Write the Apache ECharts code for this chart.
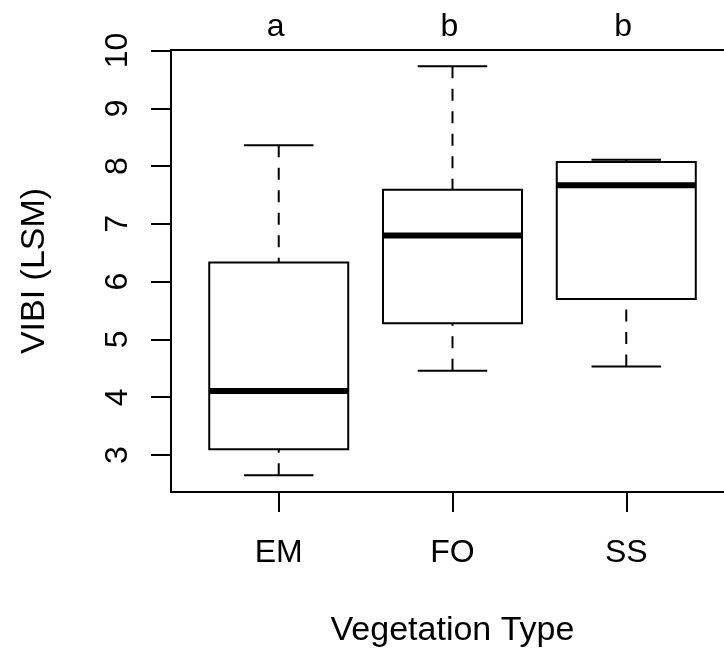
<!DOCTYPE html>
<html>
<head>
<meta charset="utf-8">
<script src="https://cdn.jsdelivr.net/npm/echarts@6/dist/echarts.min.js"></script>
<style>
  html, body { margin: 0; padding: 0; background: #fff; overflow: hidden; }
  /* the plot frame runs past the right edge of the page, so the canvas is wider than the window */
  #chart { width: 760px; height: 658px; }
</style>
</head>
<body>
<div id="chart"></div>
<script>
// Vegetation types and the five-number summary of VIBI (LSM) for each
const categories = ['EM', 'FO', 'SS'];
const lowerWhisker = [2.65, 4.46, 4.53];
const lowerQuartile = [3.10, 5.28, 5.70];
const medians = [4.11, 6.80, 7.67];
const upperQuartile = [6.33, 7.59, 8.07];
const upperWhisker = [8.36, 9.73, 8.11];
// Group letters from the post-hoc comparison
const groupLetters = ['a', 'b', 'b'];
const yTicks = [3, 4, 5, 6, 7, 8, 9, 10];

const FONT = '"Liberation Sans", Arial, Helvetica, sans-serif';
const TICK_SIZE = 32;
const TITLE_SIZE = 34;
const yMin = 2.36, yMax = 10.01;

const boxData = categories.map((c, i) => [
  i + 1, lowerWhisker[i], lowerQuartile[i], medians[i], upperQuartile[i], upperWhisker[i]
]);

function renderBox(params, api) {
  const x = api.value(0);
  const pLow = api.coord([x, api.value(1)]);
  const pQ1 = api.coord([x, api.value(2)]);
  const pMed = api.coord([x, api.value(3)]);
  const pQ3 = api.coord([x, api.value(4)]);
  const pHigh = api.coord([x, api.value(5)]);
  const halfBox = api.size([0.8, 0])[0] / 2;
  const halfCap = halfBox / 2;
  const cx = pMed[0];
  const line = (x1, y1, x2, y2, extra) => ({
    type: 'line',
    shape: { x1, y1, x2, y2 },
    style: Object.assign({ stroke: '#000', lineWidth: 2, lineCap: 'butt' }, extra || {})
  });
  const dash = { lineDash: [12, 10.5] };
  return {
    type: 'group',
    children: [
      // whiskers run from the cap toward the box
      line(cx, pHigh[1], cx, pQ3[1], dash),
      line(cx, pLow[1], cx, pQ1[1], dash),
      line(cx - halfCap, pHigh[1], cx + halfCap, pHigh[1]),
      line(cx - halfCap, pLow[1], cx + halfCap, pLow[1]),
      {
        type: 'rect',
        shape: { x: cx - halfBox, y: pQ3[1], width: halfBox * 2, height: pQ1[1] - pQ3[1] },
        style: { fill: '#fff', stroke: '#000', lineWidth: 2 }
      },
      line(cx - halfBox, pMed[1], cx + halfBox, pMed[1], { lineWidth: 6 })
    ]
  };
}

function renderLetter(params, api) {
  const x = api.value(0);
  const p = api.coord([x, yMax]);
  return {
    type: 'text',
    x: p[0] - 3,
    y: p[1] - 23,
    style: {
      text: groupLetters[params.dataIndex],
      fill: '#000',
      font: TICK_SIZE + 'px ' + FONT,
      align: 'center',
      verticalAlign: 'middle'
    }
  };
}

const chart = echarts.init(document.getElementById('chart'), null, { renderer: 'canvas' });
chart.setOption({
  animation: false,
  backgroundColor: '#fff',
  grid: {
    left: 171, top: 50, width: 563, height: 442,
    show: true, borderColor: '#000', borderWidth: 2, backgroundColor: 'transparent'
  },
  xAxis: {
    type: 'value',
    min: 0.38, max: 3.62,
    splitLine: { show: false },
    axisLine: { show: true, lineStyle: { color: '#000', width: 2 } },
    axisTick: { show: true, length: 20, customValues: [1, 2, 3], lineStyle: { color: '#000', width: 2 } },
    axisLabel: {
      customValues: [1, 2, 3],
      formatter: v => categories[Math.round(v) - 1],
      color: '#000', fontSize: TICK_SIZE, fontFamily: FONT, margin: 45
    },
    name: 'Vegetation Type',
    nameLocation: 'middle',
    nameGap: 122,
    nameTextStyle: { color: '#000', fontSize: TITLE_SIZE, fontFamily: FONT }
  },
  yAxis: {
    type: 'value',
    min: yMin, max: yMax,
    splitLine: { show: false },
    axisLine: { show: true, lineStyle: { color: '#000', width: 2 } },
    axisTick: { show: true, length: 20, customValues: yTicks, lineStyle: { color: '#000', width: 2 } },
    axisLabel: {
      customValues: yTicks,
      rotate: 90,
      color: '#000', fontSize: TICK_SIZE, fontFamily: FONT, margin: 37
    },
    name: 'VIBI (LSM)',
    nameLocation: 'middle',
    nameGap: 119,
    nameRotate: 90,
    nameTextStyle: { color: '#000', fontSize: TITLE_SIZE, fontFamily: FONT }
  },
  series: [
    {
      type: 'custom',
      renderItem: renderBox,
      data: boxData,
      clip: false,
      encode: { x: 0, y: [1, 2, 3, 4, 5] }
    },
    {
      type: 'custom',
      renderItem: renderLetter,
      data: categories.map((c, i) => [i + 1]),
      clip: false,
      encode: { x: 0 }
    }
  ]
});
</script>
</body>
</html>
